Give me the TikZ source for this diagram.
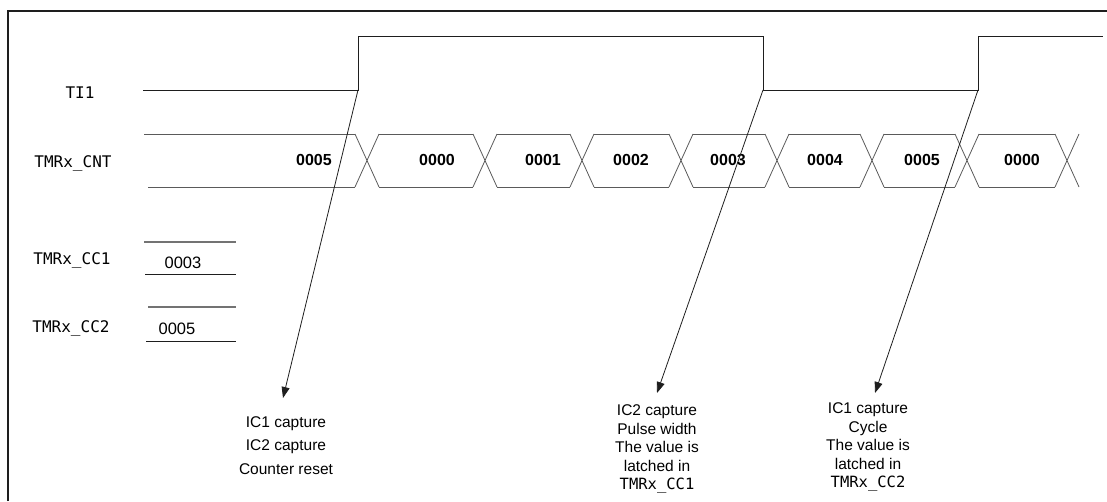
\documentclass[tikz,border=0pt]{standalone}
\usepackage{fontspec}
\setmainfont{Liberation Sans}
\newfontfamily\gothfont{DejaVu Sans Mono}
\usetikzlibrary{arrows.meta}
\definecolor{ink}{RGB}{30,30,30}
\definecolor{wire}{RGB}{90,90,90}
\tikzset{
  x=1pt,y=-1pt,
  frame/.style={line width=1.8pt,draw=ink},
  sig/.style={line width=0.8pt,draw=ink},
  bus/.style={line width=0.8pt,draw=wire},
  reg top/.style={line width=1.2pt,draw=black!55},
  reg bot/.style={line width=0.9pt,draw=ink},
  signame/.style={font=\gothfont\fontsize{16}{18}\selectfont,inner sep=0pt},
  val/.style={font=\bfseries\fontsize{16}{19}\selectfont,inner sep=0pt},
  regval/.style={font=\fontsize{16.5}{19}\selectfont,inner sep=0pt},
  note/.style={align=center,inner sep=0pt,font=\fontsize{15.5}{#1}\selectfont},
  note/.default=18.5,
  ptr/.style={-{Triangle[length=11pt,width=8pt]},line width=0.8pt,draw=ink},
}
\begin{document}
\begin{tikzpicture}
  \useasboundingbox (0,0) rectangle (1107,501);
  \draw[frame] (8,501) -- (8,11) -- (1107,11);
  % signal names
  \node[signame] (ti) at (80,93) {TI1};
  \node[signame] (cnt) at (73,163) {TMRx\_CNT};
  \node[signame] (cc1) at (72,260) {TMRx\_CC1};
  \node[signame] (cc2) at (71,328) {TMRx\_CC2};
  % input waveform
  \draw[sig] (143,90) -- (358,90) coordinate (e1) -- (358,36) -- (763,36)
    -- (763,90) coordinate (e2) -- (978,90) coordinate (e3) -- (978,36) -- (1103,36);
  % counter bus
  \draw[bus] (144,134) -- (355,134) (148,187) -- (355,187);
  \foreach \c in {367,485,582,681,777,872,967,1067}
    \draw[bus] (\c-12,134) -- (\c+12,187) (\c-12,187) -- (\c+12,134);
  \foreach \a/\b in {367/485,485/582,582/681,681/777,777/872,872/967,967/1067}
    \draw[bus] (\a+12,134) -- (\b-12,134) (\a+12,187) -- (\b-12,187);
  \foreach \x/\v [count=\i] in {314/0005,437/0000,543/0001,631/0002,728/0003,825/0004,922/0005,1022/0000}
    \node[val] (v\i) at (\x,160) {\v};
  % capture registers
  \draw[reg top] (144,242) -- (236,242);
  \draw[reg bot] (145,274) -- (236,274);
  \node[regval] (r1) at (183,263) {0003};
  \draw[reg top] (148,307) -- (236,307);
  \draw[reg bot] (146,341) -- (236,341);
  \node[regval] (r2) at (177,329) {0005};
  % events
  \node[note=23.5] (n1) at (286,445.5) {IC1 capture\\IC2 capture\\Counter reset};
  \node[note] (n2) at (657,449) {IC2 capture\\Pulse width\\The value is\\latched in\\{\gothfont TMRx\_CC1}};
  \node[note] (n3) at (868,447) {IC1 capture\\Cycle\\The value is\\latched in\\{\gothfont TMRx\_CC2}};
  \coordinate (t1) at (283,398);
  \coordinate (t2) at (657,393);
  \coordinate (t3) at (875,393);
  \draw[ptr] (e1) -- (t1);
  \draw[ptr] (e2) -- (t2);
  \draw[ptr] (e3) -- (t3);
\end{tikzpicture}
\end{document}
